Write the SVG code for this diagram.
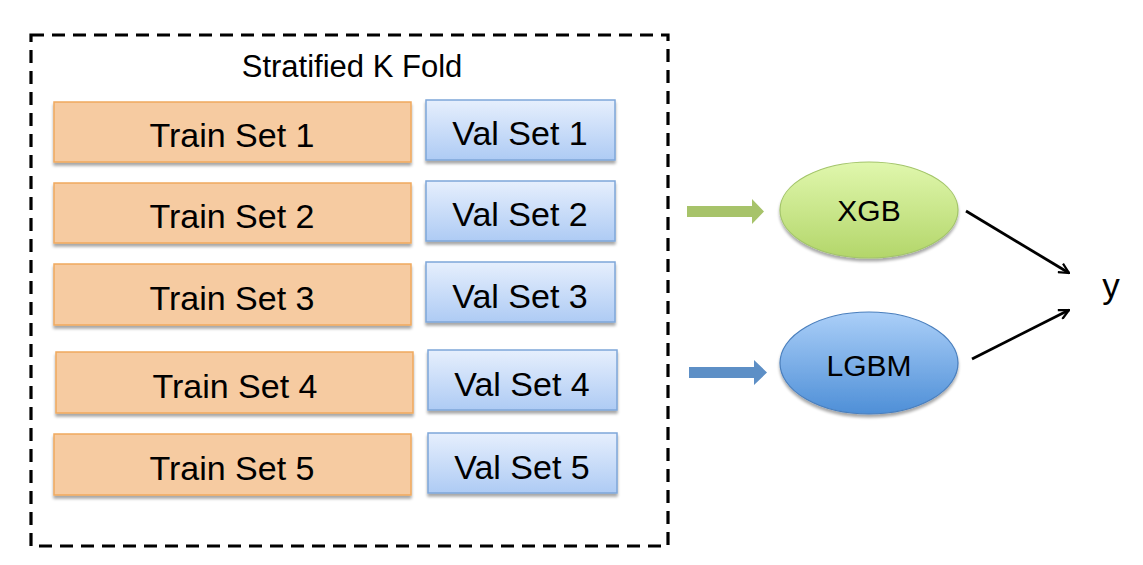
<svg xmlns="http://www.w3.org/2000/svg" width="1143" height="565" viewBox="0 0 1143 565">
<defs>
<linearGradient id="valGrad" x1="0" y1="0" x2="0" y2="1">
<stop offset="0" stop-color="#e6effd"/>
<stop offset="1" stop-color="#aecbf4"/>
</linearGradient>
<linearGradient id="xgbGrad" x1="0" y1="0" x2="0" y2="1">
<stop offset="0" stop-color="#e0f7ad"/>
<stop offset="1" stop-color="#b3d66a"/>
</linearGradient>
<linearGradient id="lgbmGrad" x1="0" y1="0" x2="0" y2="1">
<stop offset="0" stop-color="#abcff8"/>
<stop offset="1" stop-color="#4e8fd7"/>
</linearGradient>
<filter id="shadow" x="-10%" y="-20%" width="120%" height="150%">
<feGaussianBlur in="SourceAlpha" stdDeviation="1.5"/>
<feOffset dx="0" dy="2.5" result="b"/>
<feComponentTransfer><feFuncA type="linear" slope="0.35"/></feComponentTransfer>
<feMerge><feMergeNode/><feMergeNode in="SourceGraphic"/></feMerge>
</filter>
<marker id="open" viewBox="0 0 12 12" refX="11" refY="6" markerWidth="12" markerHeight="12" markerUnits="userSpaceOnUse" orient="auto">
<path d="M1,1 L11,6 L1,11" fill="none" stroke="#000" stroke-width="2.2"/>
</marker>
</defs>
<style>
.txt{font-family:"Liberation Sans",Arial,sans-serif;fill:#000;text-anchor:middle}
.train{fill:#f6cba1;stroke:#f0a95e;stroke-width:1.5;filter:url(#shadow)}
.val{fill:url(#valGrad);stroke:#7ea6d9;stroke-width:1.5;filter:url(#shadow)}
.lbl{font-size:34px}
</style>
<rect x="0" y="0" width="1143" height="565" fill="#fff"/>
<g id="fold">
<rect x="31" y="35" width="637" height="511" fill="none" stroke="#000" stroke-width="3.2" stroke-dasharray="13,8"/>
<text class="txt" x="352" y="77" font-size="31">Stratified K Fold</text>
</g>
<g id="train1"><rect class="train" x="54" y="102" width="357" height="60"/><text class="txt lbl" x="232" y="147">Train Set 1</text></g>
<g id="val1"><rect class="val" x="426" y="100" width="189" height="60"/><text class="txt lbl" x="520" y="145">Val Set 1</text></g>
<g id="train2"><rect class="train" x="54" y="183" width="357" height="60"/><text class="txt lbl" x="232" y="228">Train Set 2</text></g>
<g id="val2"><rect class="val" x="426" y="181" width="189" height="60"/><text class="txt lbl" x="520" y="226">Val Set 2</text></g>
<g id="train3"><rect class="train" x="54" y="264" width="357" height="61"/><text class="txt lbl" x="232" y="310">Train Set 3</text></g>
<g id="val3"><rect class="val" x="426" y="262" width="189" height="60"/><text class="txt lbl" x="520" y="308">Val Set 3</text></g>
<g id="train4"><rect class="train" x="56" y="352" width="357" height="61"/><text class="txt lbl" x="235" y="398">Train Set 4</text></g>
<g id="val4"><rect class="val" x="428" y="350" width="189" height="60"/><text class="txt lbl" x="522" y="396">Val Set 4</text></g>
<g id="train5"><rect class="train" x="54" y="434" width="357" height="61"/><text class="txt lbl" x="232" y="480">Train Set 5</text></g>
<g id="val5"><rect class="val" x="428" y="433" width="189" height="60"/><text class="txt lbl" x="522" y="479">Val Set 5</text></g>
<g id="xgb"><ellipse cx="869" cy="210" rx="89" ry="48" fill="url(#xgbGrad)" stroke="#a3c569" stroke-width="1.2" filter="url(#shadow)"/><text class="txt" x="869" y="221" font-size="30">XGB</text></g>
<g id="lgbm"><ellipse cx="869" cy="363" rx="89" ry="51" fill="url(#lgbmGrad)" stroke="#4a7fbd" stroke-width="1.2" filter="url(#shadow)"/><text class="txt" x="869" y="376" font-size="30">LGBM</text></g>
<g id="y"><text class="txt" x="1111" y="298" font-size="35">y</text></g>
<g id="connectors">
<polygon points="687,206 752,206 752,199 764,211.5 752,224 752,217 687,217" fill="#a7c36a"/>
<polygon points="689,367 754,367 754,360 767,372.5 754,385 754,378 689,378" fill="#5d8fc6"/>
<line x1="966" y1="211" x2="1069" y2="273" stroke="#000" stroke-width="2.8" marker-end="url(#open)"/>
<line x1="972" y1="359" x2="1069" y2="310" stroke="#000" stroke-width="2.8" marker-end="url(#open)"/>
</g>
</svg>
